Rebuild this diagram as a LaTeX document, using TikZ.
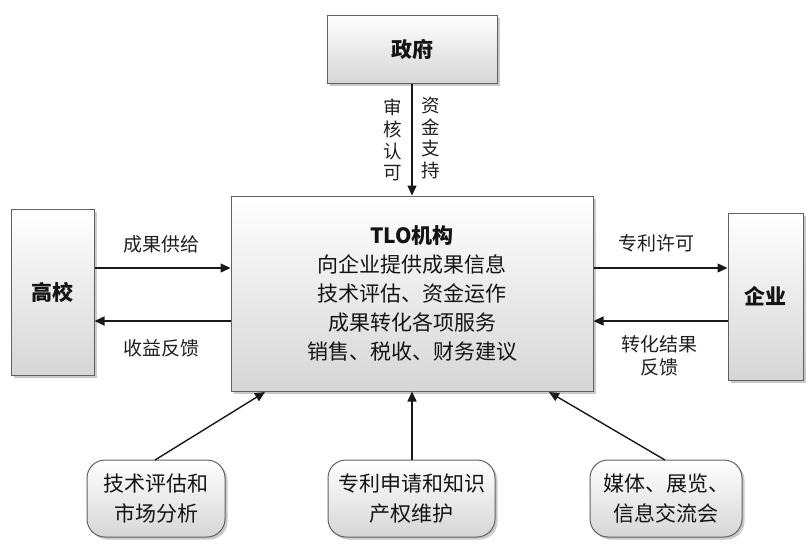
\documentclass[tikz,border=0pt]{standalone}
\usepackage{fontspec}
\setmainfont{Noto Sans CJK SC}
\usetikzlibrary{arrows.meta,shadows}
\tikzset{
  boxsty/.style={draw=black!62, line width=1pt, top color=white, bottom color=black!16,
    drop shadow={shadow xshift=2.5pt, shadow yshift=-2.5pt, fill=black!35, opacity=0.6},
    inner sep=0pt, align=center, text=black!92},
  roundsty/.style={boxsty, rounded corners=18pt},
  mainfont/.style={font=\fontsize{21}{29}\selectfont},
  lblfont/.style={font=\fontsize{19}{23}\selectfont, text=black!88, align=center},
  arr/.style={draw=black!90, line width=1.4pt, -{Triangle[length=10pt,width=9pt]}},
}
\begin{document}
\begin{tikzpicture}[x=1pt,y=-1pt]
\useasboundingbox (0,0) rectangle (806,544);
% boxes
\node[boxsty, mainfont, minimum width=170pt, minimum height=68pt] (gov) at (412,49) {\textbf{政府}};
\node[boxsty, mainfont, minimum width=362pt, minimum height=195pt] (tlo) at (412,293.5)
  {\textbf{TLO机构}\\向企业提供成果信息\\技术评估、资金运作\\成果转化各项服务\\销售、税收、财务建议};
\node[boxsty, mainfont, minimum width=83pt, minimum height=166pt] (gx) at (52.5,292) {\textbf{高校}};
\node[boxsty, mainfont, minimum width=75pt, minimum height=167pt] (qy) at (765.5,296.5) {\textbf{企业}};
\node[roundsty, font=\fontsize{21}{30}\selectfont, minimum width=138pt, minimum height=77pt] (b1) at (156,498.5) {技术评估和\\市场分析};
\node[roundsty, font=\fontsize{21}{30}\selectfont, minimum width=167pt, minimum height=77pt] (b2) at (411.5,498.5) {专利申请和知识\\产权维护};
\node[roundsty, font=\fontsize{21}{30}\selectfont, minimum width=152pt, minimum height=77pt] (b3) at (666,498.5) {媒体、展览、\\信息交流会};
% connectors
\coordinate (b1top) at (155,460);
\coordinate (tloL) at (265,392);
\coordinate (b3top) at (665,460);
\coordinate (tloR) at (549,392);
\draw[arr] (gov.south) -- (tlo.north);
\draw[arr] (gx.east |- 0,268) -- (tlo.west |- 0,268);
\draw[arr] (tlo.west |- 0,321) -- (gx.east |- 0,321);
\draw[arr] (tlo.east |- 0,268) -- (qy.west |- 0,268);
\draw[arr] (qy.west |- 0,321) -- (tlo.east |- 0,321);
\draw[arr] (b1top) -- (tloL);
\draw[arr] (b2.north -| tlo.south) -- (tlo.south);
\draw[arr] (b3top) -- (tloR);
% labels
\node[lblfont, font=\fontsize{18.5}{21.8}\selectfont] (l1) at (393,140) {审\\核\\认\\可};
\node[lblfont, font=\fontsize{18.5}{21.8}\selectfont] (l2) at (431,138) {资\\金\\支\\持};
\node[lblfont] (l3) at (161,244) {成果供给};
\node[lblfont] (l4) at (161,348) {收益反馈};
\node[lblfont] (l5) at (656,243) {专利许可};
\node[lblfont] (l6) at (659,356) {转化结果\\反馈};
\end{tikzpicture}
\end{document}
